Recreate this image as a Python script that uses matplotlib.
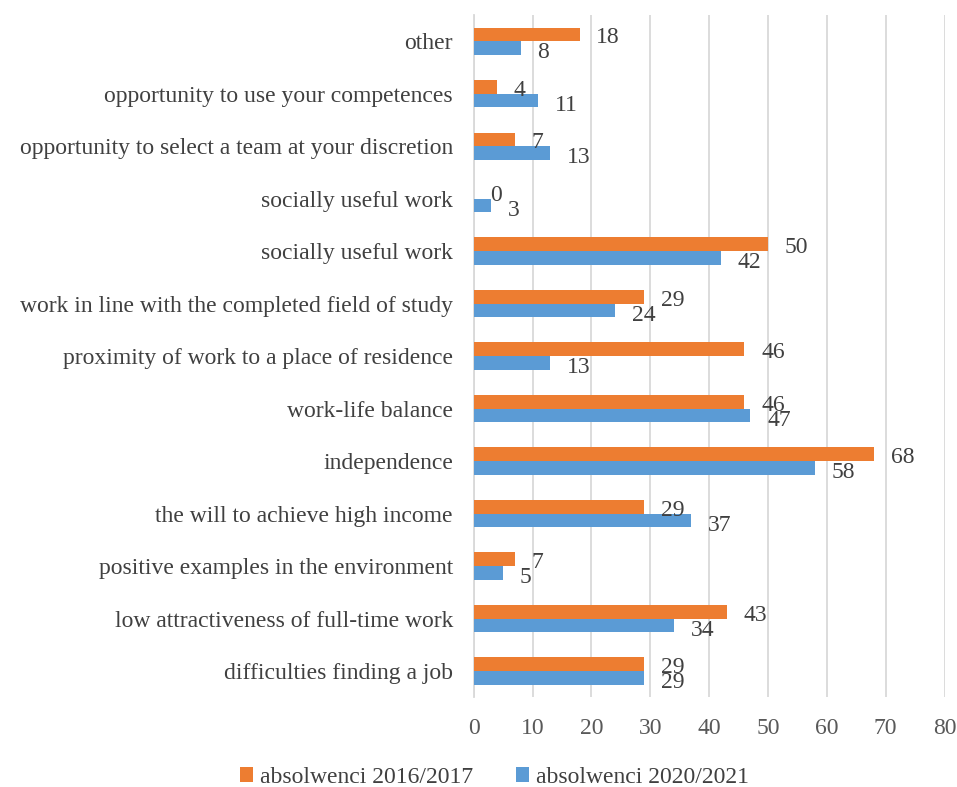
import numpy as np
import matplotlib
matplotlib.use("Agg")
import matplotlib.pyplot as plt

plt.rcParams['font.family'] = ['Liberation Serif', 'DejaVu Serif']

# categories listed top to bottom
categories = [
    "other",
    "opportunity to use your competences",
    "opportunity to select a team at your discretion",
    "socially useful work",
    "socially useful work",
    "work in line with the completed field of study",
    "proximity of work to a place of residence",
    "work-life balance",
    "independence",
    "the will to achieve high income",
    "positive examples in the environment",
    "low attractiveness of full-time work",
    "difficulties finding a job",
]
grads_2016 = [18, 4, 7, 0, 50, 29, 46, 46, 68, 29, 7, 43, 29]
grads_2020 = [8, 11, 13, 3, 42, 24, 13, 47, 58, 37, 5, 34, 29]
series_names = ["absolwenci 2016/2017", "absolwenci 2020/2021"]
x_ticks = list(range(0, 90, 10))

ORANGE = "#ED7D31"
BLUE = "#5B9BD5"
TEXT = "#404040"
FS = 17

fig = plt.figure(figsize=(9.57, 7.87), dpi=100)
ax = fig.add_axes([0.495, 0.114, 0.492, 0.867])

y = np.arange(len(categories))
h = 0.26
b1 = ax.barh(y - h / 2, grads_2016, height=h, color=ORANGE, label=series_names[0], zorder=3)
b2 = ax.barh(y + h / 2, grads_2020, height=h, color=BLUE, label=series_names[1], zorder=3)

# value labels just past the bar ends
for yi, v in zip(y, grads_2016):
    ax.annotate(str(v), (v, yi - h / 2), xytext=(12, -2.5), textcoords="offset points",
                ha="left", va="center", fontsize=FS, color=TEXT, zorder=4)
for yi, v in zip(y, grads_2020):
    ax.annotate(str(v), (v, yi + h / 2), xytext=(12, -3.5), textcoords="offset points",
                ha="left", va="center", fontsize=FS, color=TEXT, zorder=4)

ax.set_xlim(0, 80)
ax.set_ylim(len(categories) - 0.5, -0.5)
ax.set_xticks(x_ticks)
ax.set_yticks(y)
ax.set_yticklabels(categories)
ax.tick_params(axis="x", length=0, pad=15, labelsize=FS, labelcolor="#595959")
ax.tick_params(axis="y", length=0, pad=15, labelsize=FS, labelcolor=TEXT)

ax.grid(axis="x", color="#D9D9D9", linewidth=1.3, zorder=0)
for s in ["top", "right", "bottom"]:
    ax.spines[s].set_visible(False)
ax.spines["left"].set_color("#D9D9D9")
ax.spines["left"].set_linewidth(1.3)

fig.legend(handles=[b1, b2], loc="lower center", bbox_to_anchor=(0.517, -0.028), ncol=2,
           frameon=False, fontsize=FS, handlelength=0.55, handleheight=0.55,
           handletextpad=0.3, columnspacing=1.8, labelcolor=TEXT)

fig.savefig("out.png", dpi=100, facecolor="white")
